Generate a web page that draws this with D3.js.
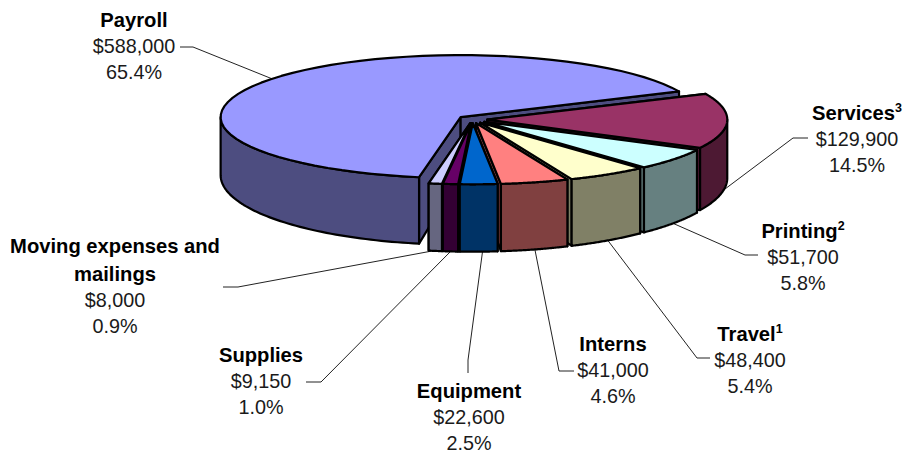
<!DOCTYPE html>
<html>
<head>
<meta charset="utf-8">
<script src="https://cdn.jsdelivr.net/npm/d3@7/dist/d3.min.js"></script>
<style>
html,body{margin:0;padding:0;background:#fff}
svg{display:block}
text{font-family:"Liberation Sans",Arial,sans-serif;font-size:19.8px;text-anchor:middle;fill:#1a1a1a}
.name{font-weight:700;fill:#000;font-size:20.2px}
</style>
</head>
<body>
<svg id="chart" width="904" height="451"></svg>
<script>
const categories = ["Services","Printing","Travel","Interns","Equipment","Supplies","Moving expenses and mailings","Payroll"];
const amounts = [129900,51700,48400,41000,22600,9150,8000,588000];
const superscripts = ["3","2","1","","","","",""];
const topColors = ["#993366","#ccffff","#ffffcc","#ff8080","#0066cc","#660066","#ccccff","#9999ff"];
const sideColors = ["#4d1933","#668080","#808066","#804040","#003366","#330033","#666680","#4d4d80"];
const nameLines = [["Services"],["Printing"],["Travel"],["Interns"],["Equipment"],["Supplies"],["Moving expenses and","mailings"],["Payroll"]];
// label anchors: centre x, first baseline
const labelAnchors = [[857,120],[803,238],[750,341],[613,351],[469,398],[261,362],[115,253],[134,27]];
const nameGap = 28, valueGap = 26;
const leaderPaths = [
  [[808,138],[793,138],[725,189]],
  [[758,255],[745,255],[670,222]],
  [[710,358],[697,358],[606,238]],
  [[574,371],[559,371],[534,245]],
  [[468,373],[468,360],[483,248]],
  [[306,382],[321,382],[452,250]],
  [[223,287],[238,287],[432,251]],
  [[180,47],[193,47],[275,80]]
];
const paintOrder = [7,0,1,2,3,6,5,4];

const svg = d3.select("#chart");
const total = d3.sum(amounts);
const fmtMoney = d3.format("$,");
const fmtPct = d3.format(".1%");

const firstAngle = 65.5 * Math.PI / 180;
const pie = d3.pie().sort(null).startAngle(firstAngle).endAngle(firstAngle + 2 * Math.PI);
const arcs = pie(amounts);

const cx = 472.4, cy = 119.5, rx = 240, ryBack = 62, ryFront = 61, explode = 0.062;
const ry = a => Math.cos(a) > 0 ? ryBack : ryFront;
const onTop = (o, a) => [o[0] + rx * Math.sin(a), o[1] - ry(a) * Math.cos(a)];
const down = p => [p[0], p[1] + 58 + (p[1] - 117) * 0.14];
const line = d3.line();
const arcPoints = (o, a0, a1) => d3.range(0, 61).map(i => onTop(o, a0 + (a1 - a0) * i / 60));

const leaders = svg.append("g");
leaderPaths.forEach(p => leaders.append("path").attr("d", line(p)).attr("fill", "none").attr("stroke", "#222").attr("stroke-width", 1));

const pieG = svg.append("g").attr("stroke", "#000").attr("stroke-width", 2.2).attr("stroke-linejoin", "round");
paintOrder.forEach(i => {
  const d = arcs[i], mid = (d.startAngle + d.endAngle) / 2;
  const o = [cx + explode * rx * Math.sin(mid), cy - explode * ry(mid) * Math.cos(mid)];
  const face = (pts, fill) => pieG.append("path").attr("d", line(pts) + "Z").attr("fill", fill);
  const s = onTop(o, d.startAngle), e = onTop(o, d.endAngle);
  face([o, s, down(s), down(o)], sideColors[i]);
  face([o, e, down(e), down(o)], sideColors[i]);
  const a0 = Math.max(d.startAngle, Math.PI / 2), a1 = Math.min(d.endAngle, 3 * Math.PI / 2);
  if (a1 > a0) {
    const upper = arcPoints(o, a0, a1);
    face(upper.concat(upper.map(down).reverse()), sideColors[i]);
  }
  face([o].concat(arcPoints(o, d.startAngle, d.endAngle)), topColors[i]);
});

categories.forEach((c, i) => {
  const [x, y0] = labelAnchors[i];
  let y = y0;
  nameLines[i].forEach((t, k) => {
    y = y0 + k * nameGap;
    const el = svg.append("text").attr("class", "name").attr("x", x).attr("y", y).text(t);
    if (superscripts[i]) el.append("tspan").attr("dy", -8).style("font-size", "12.5px").text(superscripts[i]);
  });
  svg.append("text").attr("x", x).attr("y", y + valueGap).text(fmtMoney(amounts[i]));
  svg.append("text").attr("x", x).attr("y", y + 2 * valueGap).text(fmtPct(amounts[i] / total));
});
</script>
</body>
</html>
